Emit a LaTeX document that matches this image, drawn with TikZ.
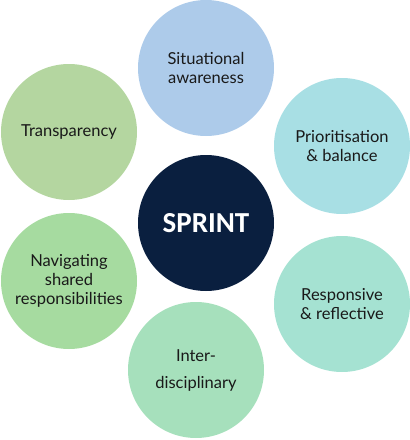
\documentclass[tikz,border=0pt]{standalone}
\usepackage{fontspec}
\setmainfont{Lato}
\newfontfamily\headfont{Carlito}

\definecolor{cblue}{HTML}{ADCBEA}
\definecolor{ccyan}{HTML}{A8DFE4}
\definecolor{caqua}{HTML}{A5E2D2}
\definecolor{cmint}{HTML}{A6E0BC}
\definecolor{cgreen}{HTML}{A6DBA0}
\definecolor{cleaf}{HTML}{B4D6A0}
\definecolor{cnavy}{HTML}{0A1F3F}

\begin{document}
\begin{tikzpicture}[
  x=1pt, y=-1pt,
  petal/.style={circle, inner sep=0pt, minimum size=136pt, align=center,
    font=\fontsize{16.5}{19}\selectfont, text=black!90},
  hub/.style={circle, fill=cnavy, inner sep=0pt, minimum size=136pt,
    font=\headfont\bfseries\fontsize{29}{32}\selectfont, text=white}
]
  \useasboundingbox (0,0) rectangle (410,440);

  % Centre
  \node[hub] (sprint) at (206,223) {SPRINT};

  % Outer circles, clockwise from the top
  \node[petal, fill=cblue] (aware) at (206,68) {Situational\\awareness};
  \node[petal, fill=ccyan] (prior) at (342,146) {Prioritisation\\\& balance};
  \node[petal, fill=caqua] (resp) at (342,304) {Responsive\\\& reflective};
  \node[petal, fill=cmint] (inter) at (196,370) {Inter-\\[8pt]disciplinary};
  \node[petal, fill=cgreen] (navig) at (69,281) {Navigating\\shared\\responsibilities};
  \node[petal, fill=cleaf] (transp) at (69,132) {Transparency};
\end{tikzpicture}
\end{document}
